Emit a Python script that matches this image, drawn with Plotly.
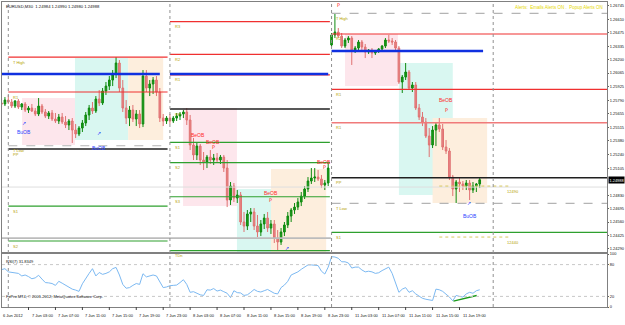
import plotly.graph_objects as go

# ---------------- data ----------------
bar_index = list(range(-2, 141))
opens = [1.25763,1.25753,1.25793,1.25773,1.25732,1.25783,1.25722,1.25753,1.25692,1.25712,
         1.25682,1.25652,1.25732,1.25672,1.25631,1.25662,1.25601,1.25581,1.25621,1.25571,
         1.25541,1.25581,1.25490,1.25450,1.25510,1.25561,1.25642,1.25712,1.25682,1.25803,
         1.25763,1.25884,1.25934,1.25995,1.26056,1.26167,1.25914,1.25712,1.25611,1.25692,
         1.25601,1.25652,1.25551,1.26035,1.25914,1.25955,1.25995,1.25874,1.25611,1.25581,
         1.25611,1.25581,1.25611,1.25631,1.25652,1.25672,1.25591,1.25339,1.25238,1.25328,
         1.25187,1.25167,1.25217,1.25187,1.25207,1.25187,1.25217,1.25106,1.24783,1.24924,
         1.24803,1.24834,1.24561,1.24520,1.24642,1.24662,1.24520,1.24460,1.24541,1.24601,
         1.24500,1.24541,1.24399,1.24359,1.24460,1.24531,1.24621,1.24682,1.24712,1.24763,
         1.24823,1.24894,1.24975,1.25005,1.25015,1.24995,1.24935,1.24955,
         1.26349,1.26450,1.26480,1.26439,1.26338,1.26399,1.26419,1.26298,1.26318,1.26379,
         1.26328,1.26278,1.26298,1.26268,1.26288,1.26308,1.26338,1.26399,1.26389,1.26379,
         1.26318,1.25975,1.26025,1.26076,1.25914,1.25945,1.25712,1.25621,1.25571,1.25429,
         1.25339,1.25490,1.25541,1.25500,1.25318,1.25278,1.25015,1.24894,1.24965,1.24945,
         1.24924,1.24955,1.24884,1.24924,1.24945]
highs = [1.25813,1.25823,1.25844,1.25803,1.25793,1.25803,1.25763,1.25773,1.25732,1.25753,
         1.25712,1.25813,1.25753,1.25702,1.25682,1.25692,1.25662,1.25652,1.25662,1.25631,
         1.25601,1.25611,1.25551,1.25530,1.25591,1.25672,1.25743,1.25773,1.25833,1.25894,
         1.25914,1.25975,1.26035,1.26096,1.26227,1.26197,1.25995,1.25793,1.25732,1.25743,
         1.25692,1.25692,1.26096,1.26096,1.25995,1.26025,1.26035,1.25914,1.25652,1.25631,
         1.25652,1.25631,1.25662,1.25672,1.25692,1.25712,1.25642,1.25409,1.25359,1.25349,
         1.25268,1.25238,1.25288,1.25248,1.25258,1.25238,1.25238,1.25187,1.24965,1.24955,
         1.24884,1.24864,1.24662,1.24682,1.24702,1.24702,1.24632,1.24581,1.24642,1.24662,
         1.24581,1.24581,1.24480,1.24500,1.24561,1.24662,1.24702,1.24753,1.24803,1.24864,
         1.24924,1.25015,1.25106,1.25106,1.25086,1.25036,1.24985,1.25157,
         1.26470,1.26672,1.26520,1.26470,1.26419,1.26439,1.26439,1.26338,1.26399,1.26399,
         1.26359,1.26308,1.26318,1.26298,1.26318,1.26349,1.26419,1.26450,1.26419,1.26399,
         1.26338,1.26046,1.26167,1.26096,1.25975,1.25975,1.25753,1.25672,1.25611,1.25510,
         1.25530,1.25571,1.25611,1.25551,1.25389,1.25308,1.25036,1.24985,1.25005,1.24975,
         1.24985,1.24985,1.24965,1.24955,1.25015]
lows = [1.25722,1.25732,1.25753,1.25712,1.25712,1.25702,1.25692,1.25672,1.25662,1.25672,
        1.25631,1.25631,1.25652,1.25611,1.25601,1.25581,1.25561,1.25551,1.25551,1.25510,
        1.25490,1.25359,1.25409,1.25429,1.25470,1.25530,1.25591,1.25652,1.25662,1.25732,
        1.25743,1.25844,1.25894,1.25934,1.26015,1.25874,1.25672,1.25551,1.25530,1.25571,
        1.25530,1.25510,1.25520,1.25874,1.25833,1.25854,1.25833,1.25571,1.25530,1.25551,
        1.25551,1.25561,1.25581,1.25591,1.25611,1.25541,1.25288,1.25187,1.25187,1.25137,
        1.25086,1.25106,1.25147,1.25137,1.25167,1.25147,1.25066,1.24712,1.24733,1.24763,
        1.24753,1.24531,1.24460,1.24480,1.24561,1.24480,1.24409,1.24419,1.24490,1.24460,
        1.24440,1.24349,1.24278,1.24329,1.24419,1.24500,1.24561,1.24642,1.24682,1.24722,
        1.24793,1.24864,1.24945,1.24965,1.24975,1.24904,1.24884,1.24924,
        1.26328,1.26419,1.26419,1.26318,1.26318,1.26369,1.26147,1.26268,1.26298,1.26298,
        1.26217,1.26258,1.26217,1.26248,1.26268,1.26288,1.26318,1.26369,1.26349,1.26298,
        1.25955,1.25864,1.25995,1.25894,1.25874,1.25692,1.25591,1.25530,1.25409,1.25217,
        1.25308,1.25328,1.25470,1.25288,1.25248,1.24985,1.24823,1.24753,1.24864,1.24884,
        1.24884,1.24783,1.24854,1.24864,1.24904]
closes = [1.25753,1.25793,1.25773,1.25732,1.25783,1.25722,1.25753,1.25692,1.25712,1.25682,
          1.25652,1.25732,1.25672,1.25631,1.25662,1.25601,1.25581,1.25621,1.25571,1.25541,
          1.25581,1.25490,1.25450,1.25510,1.25561,1.25642,1.25712,1.25682,1.25803,1.25763,
          1.25884,1.25934,1.25995,1.26056,1.26167,1.25914,1.25712,1.25611,1.25692,1.25601,
          1.25652,1.25551,1.26035,1.25914,1.25955,1.25995,1.25874,1.25611,1.25581,1.25611,
          1.25581,1.25611,1.25631,1.25652,1.25672,1.25591,1.25339,1.25238,1.25328,1.25187,
          1.25167,1.25217,1.25187,1.25207,1.25187,1.25217,1.25106,1.24783,1.24924,1.24803,
          1.24834,1.24561,1.24520,1.24642,1.24662,1.24520,1.24460,1.24541,1.24601,1.24500,
          1.24541,1.24399,1.24359,1.24460,1.24531,1.24621,1.24682,1.24712,1.24763,1.24823,
          1.24894,1.24975,1.25005,1.25015,1.24995,1.24935,1.24955,1.25106,
          1.26450,1.26480,1.26439,1.26338,1.26399,1.26419,1.26298,1.26318,1.26379,1.26328,
          1.26278,1.26298,1.26268,1.26288,1.26308,1.26338,1.26399,1.26389,1.26379,1.26318,
          1.25975,1.26025,1.26076,1.25914,1.25945,1.25712,1.25621,1.25571,1.25429,1.25339,
          1.25490,1.25541,1.25500,1.25318,1.25278,1.25015,1.24894,1.24965,1.24945,1.24924,
          1.24955,1.24884,1.24924,1.24945,1.24988]
rsi = [70.5,72.3,66.3,65.7,65.1,63.4,58.6,60.4,57.4,53.3,55.0,59.8,52.7,46.1,45.5,44.3,40.8,48.5,44.9,40.8,
       36.6,33.7,31.9,29.5,43.8,54.5,63.4,72.3,58.6,65.1,61.6,63.4,66.3,72.3,74.7,60.4,42.6,35.4,36.6,40.8,
       44.3,42.6,62.8,56.8,58.0,60.4,58.6,47.3,36.6,37.8,40.2,40.8,41.4,46.1,51.5,42.6,27.7,28.9,25.9,23.0,
       21.8,32.5,31.9,34.8,30.1,31.9,28.9,25.9,17.6,30.7,27.1,26.5,21.8,23.0,27.7,33.1,29.5,28.3,30.7,33.1,
       29.5,25.9,24.7,36.6,41.4,48.5,60.4,63.4,66.3,71.1,75.2,79.4,79.4,79.4,78.2,67.5,62.2,75.2,94.9,94.3,
       91.9,85.3,85.3,83.0,73.5,75.2,75.2,69.9,66.3,67.5,66.3,63.4,64.6,68.7,72.3,75.2,63.4,43.8,27.7,33.7,
       36.6,27.7,30.7,24.7,20.6,16.4,14.6,12.9,12.3,33.7,32.5,29.5,24.7,18.8,11.7,21.8,20.0,18.8,24.7,27.7,
       25.9,30.7,32.5]

time_label_bars = [-2, 6, 14, 22, 30, 38, 46, 54, 62, 70, 78, 86, 94, 102, 110, 118, 126, 134]
time_label_text = ["6 Jun 2012", "7 Jun 03:00", "7 Jun 07:00", "7 Jun 11:00", "7 Jun 15:00",
                   "7 Jun 19:00", "7 Jun 23:00", "8 Jun 03:00", "8 Jun 07:00", "8 Jun 11:00",
                   "8 Jun 15:00", "8 Jun 19:00", "8 Jun 23:00", "11 Jun 03:00", "11 Jun 07:00",
                   "11 Jun 11:00", "11 Jun 15:00", "11 Jun 19:00"]
day_separators = [0, 48, 96, 144]

price_ticks = [1.26745, 1.26610, 1.26475, 1.26335, 1.26200, 1.26065, 1.25925, 1.25790, 1.25655,
               1.25515, 1.25380, 1.25240, 1.25105, 1.24830, 1.24695, 1.24560, 1.24425, 1.24290]
last_price = 1.24988
rsi_ticks = [0, 20, 80, 100]
rsi_levels = [20, 80]

# horizontal levels: start bar, end bar, price, kind, label
level_start = [0, 0, 0, 0, 0, 0, -2,
               48, 48, 48, 48, 48, 48, 48, 48, 48,
               -2, -2,
               96, 96, 96, 96, 96, 96, 96, 96,
               128, 128]
level_end = [47.3, 47.3, 47.3, 47.3, 47.3, 47.3, 45,
             95.5, 95.5, 95.5, 95, 95.5, 95.5, 95.5, 95.5, 95.5,
             95.8, 179,
             179, 179, 141, 179, 179, 179, 179, 179,
             149, 149]
level_price = [1.26227, 1.25874, 1.25331, 1.25298, 1.24722, 1.24369, 1.26056,
               1.26584, 1.26255, 1.26046, 1.26056, 1.25702, 1.25366, 1.25160, 1.24816, 1.24271,
               1.24399, 1.24914,
               1.26669, 1.26460, 1.26288, 1.25901, 1.25564, 1.25008, 1.24750, 1.24457,
               1.24924, 1.24409]
level_kind = ["res", "res", "tl", "pp", "sup", "sup", "blue",
              "res", "res", "res", "blue", "pp", "sup", "sup", "sup", "sup",
              "gray", "lgray",
              "tl", "res", "blue", "res", "res2", "pp", "tl", "sup",
              "alert", "alert"]
level_label = ["T High", "R1", "T Low", "PP", "S1", "S2", "",
               "R3", "R2", "R1", "", "PP", "S1", "S2", "S3", "TDn",
               "", "",
               "T High", "R2", "", "R1", "R1", "PP", "T Low", "S1",
               "12490", "12440"]

# zones: start bar, end bar, low price, high price, kind
zone_x0 = [4.1, 19.8, 35.6, 51.9, 67.9, 78.0, 100.0, 116.0, 126.0]
zone_x1 = [19.8, 35.6, 46.0, 67.9, 84.0, 94.4, 115.7, 132.0, 142.2]
zone_lo = [1.25338, 1.25389, 1.25389, 1.24722, 1.24258, 1.24258, 1.25934, 1.24833, 1.24753]
zone_hi = [1.25813, 1.26217, 1.26217, 1.25712, 1.24894, 1.25096, 1.26460, 1.26167, 1.25611]
zone_kind = ["bear", "bull", "neutral", "bear", "bull", "neutral", "bear", "bull", "neutral"]

# order-block tags: bar, price, text
ob_bar = [4.8, 26.9, 56.2, 60.8, 77.9, 93.9, 130.0, 137.1]
ob_price = [1.25473, 1.25305, 1.25439, 1.25366, 1.24850, 1.25167, 1.25793, 1.24621]
ob_text = ["BuOB", "BuOB", "BeOB", "BeOB", "BeOB", "BeOB", "BeOB", "BuOB"]
# arrow glyphs: bar, price, direction
mark_bar = [4.7, 26.9, 60.8, 77.9, 93.8, 82.8, 130.0, 136.8, 98.0]
mark_price = [1.25564, 1.25460, 1.25322, 1.24783, 1.25120, 1.24295, 1.25692, 1.24750, 1.26753]
mark_dir = ["up", "up", "down", "down", "down", "up", "down", "up", "down"]

div_x = [132.2, 139.1]
div_y = [11.1, 21.8]

# ---------------- figure ----------------
W, H = 625, 325
XL, XR = 2, 607
MAIN_TOP, MAIN_BOT = 2, 252
RSI_TOP, RSI_BOT = 254, 307
FONT = "Liberation Sans"


def fy(px):
    return 1 - px / H


fig = go.Figure()
fig.add_trace(go.Candlestick(
    x=bar_index, open=opens, high=highs, low=lows, close=closes,
    increasing=dict(line=dict(color="#0f8a0f", width=1), fillcolor="#1a9a1a"),
    decreasing=dict(line=dict(color="#e07272", width=1), fillcolor="#e88585"),
    whiskerwidth=0, xaxis="x", yaxis="y", showlegend=False, hoverinfo="skip"))

fig.add_trace(go.Scatter(x=bar_index, y=rsi, mode="lines",
                         line=dict(color="#7cb9f2", width=1),
                         xaxis="x2", yaxis="y2", showlegend=False, hoverinfo="skip"))
fig.add_trace(go.Scatter(x=div_x, y=div_y, mode="lines",
                         line=dict(color="#1a9a1a", width=1.5),
                         xaxis="x2", yaxis="y2", showlegend=False, hoverinfo="skip"))

xr = [-1.87, 177.8]
axis_common = dict(showgrid=False, zeroline=False, showline=True, mirror=True,
                   linecolor="#808080", fixedrange=True)
fig.update_layout(
    width=W, height=H, margin=dict(l=0, r=0, t=0, b=0),
    paper_bgcolor="white", plot_bgcolor="white",
    font=dict(family=FONT, size=5, color="black"),
    xaxis=dict(domain=[XL / W, XR / W], range=xr, showticklabels=False,
               rangeslider=dict(visible=False), anchor="y", **axis_common),
    yaxis=dict(domain=[fy(MAIN_BOT), fy(MAIN_TOP)], range=[1.24258, 1.26783], side="right",
               tickvals=price_ticks, ticktext=[f"{v:.5f}" for v in price_ticks],
               ticks="outside", ticklen=1, tickcolor="#606060", anchor="x",
               tickfont=dict(size=3.95, family=FONT, color="#111111"), automargin=False,
               **axis_common),
    xaxis2=dict(domain=[XL / W, XR / W], range=xr, showticklabels=False, anchor="y2",
                **axis_common),
    yaxis2=dict(domain=[fy(RSI_BOT), fy(RSI_TOP)], range=[0, 100], side="right",
                tickvals=rsi_ticks, ticktext=[str(v) for v in rsi_ticks],
                ticks="outside", ticklen=1, tickcolor="#606060", anchor="x2",
                tickfont=dict(size=3.95, family=FONT, color="#111111"), automargin=False,
                **axis_common),
)

shapes = []
zone_fill = {"bear": "#fde6ec", "bull": "#d9f7f1", "neutral": "#fdeedd"}
for x0, x1, lo, hi, k in zip(zone_x0, zone_x1, zone_lo, zone_hi, zone_kind):
    shapes.append(dict(type="rect", xref="x", yref="y", x0=x0, x1=x1, y0=lo, y1=hi,
                       fillcolor=zone_fill[k], line=dict(width=0), layer="below"))

style = {"res": ("#f03030", 1.2, "solid"), "res2": ("#f07a7a", 1.6, "solid"),
         "sup": ("#2ea02e", 1.2, "solid"), "pp": ("#202020", 1.6, "solid"),
         "tl": ("#b4b4b4", 1.2, "dash"), "blue": ("#1030e0", 2.6, "solid"),
         "gray": ("#bcbcbc", 1.8, "solid"), "lgray": ("#dedede", 1, "solid"),
         "alert": ("#d8c860", 1, "dot")}
annotations = []
for x0, x1, p, k, lab in zip(level_start, level_end, level_price, level_kind, level_label):
    c, w, d = style[k]
    shapes.append(dict(type="line", xref="x", yref="y", x0=x0, x1=min(x1, xr[1]), y0=p, y1=p,
                       line=dict(color=c, width=w, dash=d), layer="above"))
    if lab:
        lx = x0 + 0.8 if x0 < 100 else 147.5
        annotations.append(dict(x=lx, y=p, xref="x", yref="y", text=lab, showarrow=False,
                                xanchor="left", yanchor="top", yshift=-0.5,
                                font=dict(size=4, color="#b5a200", family=FONT)))

for lv in rsi_levels:
    shapes.append(dict(type="line", xref="x2", yref="y2", x0=xr[0], x1=xr[1], y0=lv, y1=lv,
                       line=dict(color="#c8c8c8", width=1, dash="dot")))
for b in day_separators:
    shapes.append(dict(type="line", xref="x", yref="paper", x0=b, x1=b,
                       y0=fy(RSI_BOT), y1=fy(MAIN_TOP),
                       line=dict(color="#909090", width=1, dash="dot")))

for b, t in zip(time_label_bars, time_label_text):
    if b >= xr[0]:
        shapes.append(dict(type="line", xref="x2", yref="paper", x0=b, x1=b,
                           y0=fy(RSI_BOT + 3), y1=fy(RSI_BOT), line=dict(color="#404040", width=1)))
        annotations.append(dict(x=b, y=fy(315.5), xref="x2", yref="paper", text=t,
                                showarrow=False, xanchor="left", yanchor="middle", xshift=1,
                                font=dict(size=4, color="#111111", family=FONT)))
    else:
        annotations.append(dict(x=0.5 / W, y=fy(315.5), xref="paper", yref="paper", text=t,
                                showarrow=False, xanchor="left", yanchor="middle",
                                font=dict(size=4, color="#111111", family=FONT)))

for b, p, t in zip(ob_bar, ob_price, ob_text):
    col = "#2a45ff" if t == "BuOB" else "#ff2a2a"
    annotations.append(dict(x=b, y=p, xref="x", yref="y", text=t, showarrow=False,
                            font=dict(size=5, color=col, family=FONT)))
for b, p, d in zip(mark_bar, mark_price, mark_dir):
    col = "#2a45ff" if d == "up" else "#ff2a2a"
    annotations.append(dict(x=b, y=p, xref="x", yref="y", text="↗" if d == "up" else "P",
                            showarrow=False, font=dict(size=5, color=col, family="DejaVu Sans")))

annotations += [
    dict(x=XL / W + 0.003, y=fy(2.5), xref="paper", yref="paper",
         text="EURUSD,M30  1.24984 1.24990 1.24980 1.24988", showarrow=False,
         xanchor="left", yanchor="top", font=dict(size=4.2, color="#111111", family=FONT)),
    dict(x=605 / W, y=fy(3), xref="paper", yref="paper",
         text="Alerts:  Emails Alerts ON .  Popup Alerts ON", showarrow=False,
         xanchor="right", yanchor="top", font=dict(size=4.5, color="#e6d800", family=FONT)),
    dict(x=XR / W + 0.002, y=last_price, xref="paper", yref="y", text=f"{last_price:.5f}",
         showarrow=False, xanchor="left", bgcolor="black", borderpad=0.5,
         font=dict(size=3.9, color="white", family=FONT)),
    dict(x=XL / W + 0.003, y=fy(RSI_TOP + 2.5), xref="paper", yref="paper",
         text="RSI(7) 31.8349", showarrow=False, xanchor="left", yanchor="top",
         font=dict(size=4, color="#111111", family=FONT)),
    dict(x=XL / W + 0.003, y=fy(RSI_BOT - 6), xref="paper", yref="paper",
         text="FxPro MT4, © 2001-2012, MetaQuotes Software Corp.", showarrow=False,
         xanchor="left", yanchor="bottom", font=dict(size=4, color="#111111", family=FONT)),
]

fig.update_layout(shapes=shapes, annotations=annotations)
fig.write_html("out.html")
